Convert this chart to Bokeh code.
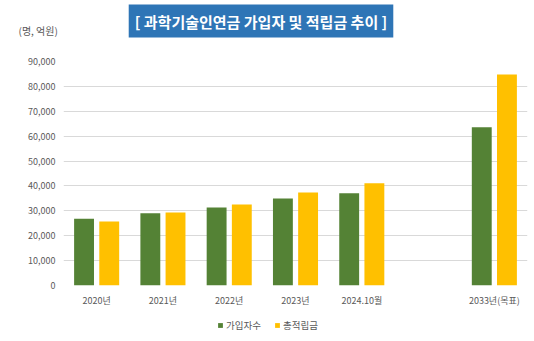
from bokeh.plotting import figure
from bokeh.layouts import column
from bokeh.models import (ColumnDataSource, FactorRange, NumeralTickFormatter, Label, Legend,
                          LegendItem, FixedTicker, Range1d)
from bokeh.transform import dodge
from bokeh.embed import file_html
from bokeh.resources import INLINE

categories = ["2020년", "2021년", "2022년", "2023년", "2024.10월", " ", "2033년(목표)"]
bar_categories = ["2020년", "2021년", "2022년", "2023년", "2024.10월", "2033년(목표)"]
subscribers = [26800, 29000, 31300, 35000, 37100, 63600]
reserves = [25700, 29300, 32500, 37400, 41100, 84800]
y_ticks = [0, 10000, 20000, 30000, 40000, 50000, 60000, 70000, 80000, 90000]
series_names = ["가입자수", "총적립금"]
title_text = "[ 과학기술인연금 가입자 및 적립금 추이 ]"
unit_text = "(명, 억원)"

FONT = "Noto Sans CJK KR"
GREEN = "#548235"
YELLOW = "#FFC000"
GRAY = "#595959"
NAN = float("nan")


def bare(height):
    f = figure(width=534, height=height, output_backend="svg", toolbar_location=None,
               x_axis_type=None, y_axis_type=None,
               x_range=Range1d(0, 534), y_range=Range1d(0, height),
               min_border=0, min_border_left=0, min_border_right=0,
               min_border_top=0, min_border_bottom=0, frame_align=False)
    f.outline_line_color = None
    f.xgrid.visible = False
    f.ygrid.visible = False
    return f


# ---------- header ----------
header = bare(50)
header.add_layout(Label(x=260.5, y=29.5, x_units="screen", y_units="screen", text=title_text,
                        text_font=FONT, text_font_size="15px", text_font_style="bold",
                        text_color="white", text_align="center", text_baseline="middle",
                        background_fill_color="#2E75B6", padding=6))
header.add_layout(Label(x=18, y=20, x_units="screen", y_units="screen", text=unit_text,
                        text_font=FONT, text_font_size="10px", text_color=GRAY,
                        text_align="left", text_baseline="middle"))

# ---------- chart ----------
src = ColumnDataSource(dict(cat=bar_categories, a=subscribers, b=reserves))

p = figure(width=534, height=265, x_range=FactorRange(*categories), y_range=(0, 90000),
           output_backend="svg", toolbar_location=None,
           min_border_left=63, min_border_right=7, min_border_top=11, min_border_bottom=30)
p.outline_line_color = None
p.x_range.range_padding = 0
p.x_range.factor_padding = 0

p.vbar(x=dodge("cat", -0.19, range=p.x_range), top="a", width=0.30, source=src,
       fill_color=GREEN, line_color=None)
p.vbar(x=dodge("cat", 0.19, range=p.x_range), top="b", width=0.30, source=src,
       fill_color=YELLOW, line_color=None)

p.xgrid.grid_line_color = None
p.ygrid.grid_line_color = "#D9D9D9"
p.ygrid.grid_line_width = 1
p.yaxis.ticker = FixedTicker(ticks=y_ticks)
p.yaxis.formatter = NumeralTickFormatter(format="0,0")
for ax in (p.xaxis, p.yaxis):
    ax.axis_line_color = None
    ax.major_tick_line_color = None
    ax.minor_tick_line_color = None
    ax.major_tick_out = 0
    ax.major_tick_in = 0
    ax.minor_tick_out = 0
    ax.major_label_text_font = FONT
    ax.major_label_text_font_size = "9px"
    ax.major_label_text_color = GRAY
p.yaxis.major_label_standoff = 8
p.xaxis.major_label_standoff = 8

# ---------- footer with legend (legend-only glyphs, nothing drawn) ----------
footer = bare(26)
g1 = footer.vbar(x=[NAN], top=[NAN], width=1, fill_color=GREEN, line_color=None)
g2 = footer.vbar(x=[NAN], top=[NAN], width=1, fill_color=YELLOW, line_color=None)
legend = Legend(items=[LegendItem(label=series_names[0], renderers=[g1]),
                       LegendItem(label=series_names[1], renderers=[g2])],
                orientation="horizontal", location=(217, 9),
                border_line_color=None, background_fill_alpha=0,
                label_text_font=FONT, label_text_font_size="9.5px", label_text_color=GRAY,
                glyph_width=6, glyph_height=6, spacing=13, label_standoff=3,
                padding=0, margin=0, label_height=12)
footer.add_layout(legend)

layout = column(header, p, footer, spacing=0)
open("out.html", "w").write(file_html(layout, INLINE))
